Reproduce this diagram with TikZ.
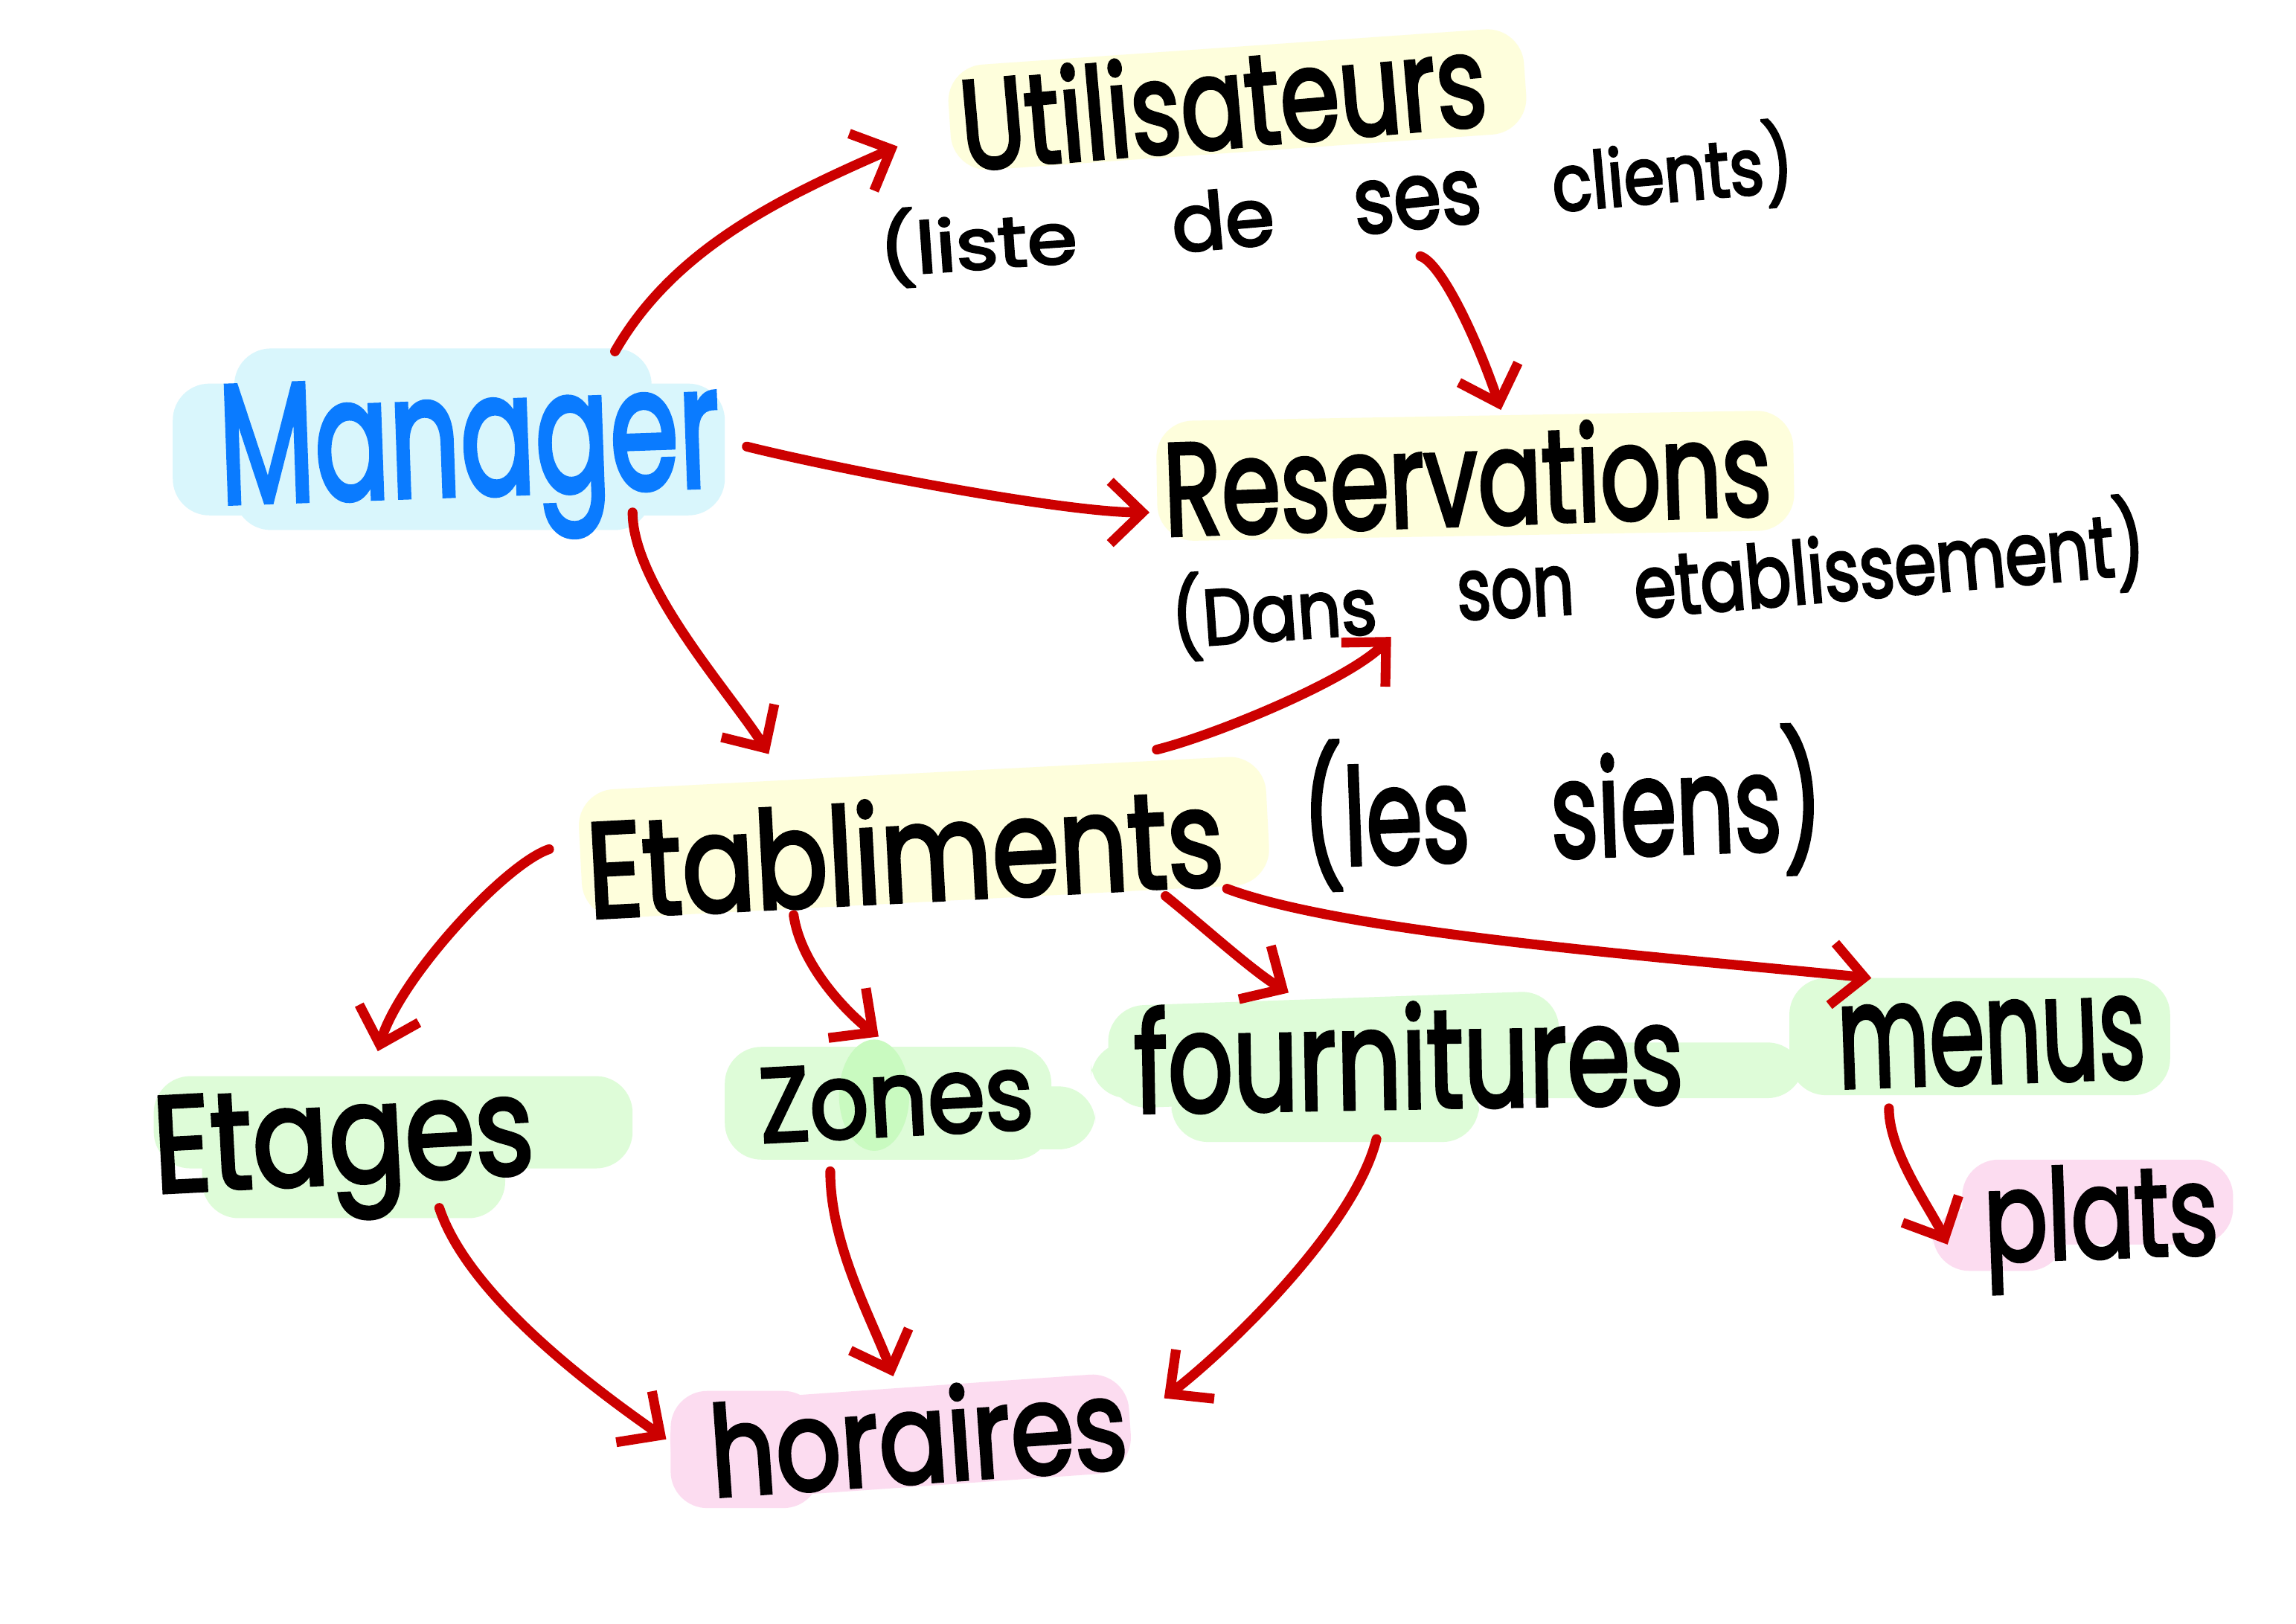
\documentclass[tikz,border=0pt]{standalone}
\usepackage{fontspec}
\setmainfont{Poppins}[FakeBold=3]
\usepackage{graphicx}
\usetikzlibrary{arrows.meta}

\definecolor{inkblue}{HTML}{0A7BFF}
\definecolor{inkred}{HTML}{CC0000}
\definecolor{hlblue}{HTML}{D9F6FC}
\definecolor{hlyellow}{HTML}{FEFEDC}
\definecolor{hlgreen}{HTML}{DEFCD8}
\definecolor{hlgreendark}{HTML}{C9FAC0}
\definecolor{hlpink}{HTML}{FCDCF0}

% #1 angle, #2 width (mm), #3 ascender height (mm), #4 text
\newcommand\handword[4]{\makebox[0pt]{\smash{\raisebox{-.5\height}{\rotatebox[origin=c]{#1}{\resizebox{#2mm}{#3mm}{#4}}}}}}

\tikzset{
  word/.style={inner sep=0pt, outer sep=0pt},
  link/.style={draw=inkred, line width=3.8pt, line cap=round, line join=round,
    -{Straight Barb[length=4.4mm,width=8.5mm,line width=3.8pt]}},
  marker/.style={rounded corners=5mm}
}

\begin{document}
\begin{tikzpicture}[x=0.2mm, y=-0.2mm]
\useasboundingbox (0,0) rectangle (1568,1109);
\fill[white] (0,0) rectangle (1568,1109);

% highlighter marks
\fill[hlblue, marker] (118,262) rectangle (495,352);
\fill[hlblue, marker] (160,238) rectangle (445,362);
\fill[hlyellow, marker, rotate around={4:(845,68)}] (648,32) rectangle (1042,104);
\fill[hlyellow, marker, rotate around={1:(1005,325)}] (790,284) rectangle (1225,366);
\fill[hlyellow, marker, rotate around={3:(630,572)}] (396,528) rectangle (866,616);
\fill[hlgreen, marker] (105,735) rectangle (432,798);
\fill[hlgreen, marker] (138,760) rectangle (345,832);
\fill[hlgreen, marker] (495,715) rectangle (718,792);
\fill[hlgreen, marker] (545,742) rectangle (748,785);
\fill[hlgreendark] (597,748) ellipse [x radius=24, y radius=38];
\fill[hlgreen, marker, rotate around={2:(910,715)}] (757,682) rectangle (1065,752);
\fill[hlgreen, marker] (745,712) rectangle (1232,750);
\fill[hlgreen, marker] (800,735) rectangle (1010,780);
\fill[hlgreen, marker] (1222,668) rectangle (1482,748);
\fill[hlpink, marker] (1340,792) rectangle (1525,850);
\fill[hlpink, marker] (1320,825) rectangle (1410,868);
\fill[hlpink, marker, rotate around={4:(615,982)}] (458,948) rectangle (772,1016);
\fill[hlpink, marker] (458,950) rectangle (560,1030);

% main words
\node[word] (mgr) at (321,295) {\handword{2}{68.4}{16}{\color{inkblue}Manager}};
\node[word] (usr) at (835,60) {\handword{5}{72}{13.2}{Utilisateurs}};
\node[word] (res) at (1002,321) {\handword{2}{83}{13.6}{Reservations}};
\node[word] (eta) at (618,575) {\handword{3}{87}{14}{Etabliments}};
\node[word] (etg) at (235,772) {\handword{3}{52}{13}{Etages}};
\node[word] (zon) at (612,748) {\handword{3}{37.4}{10}{Zones}};
\node[word] (fou) at (962,719) {\handword{1}{75}{14.4}{fournitures}};
\node[word] (men) at (1360,710) {\handword{2}{42}{11}{menus}};
\node[word] (pla) at (1435,826) {\handword{2}{32}{12.6}{plats}};
\node[word] (hor) at (627,975) {\handword{4}{57}{13}{horaires}};

% remarks, written word by word
\node[word] (lst1) at (668,159) {\handword{4}{27}{9}{(liste}};
\node[word] (lst2) at (835,148) {\handword{5}{14}{8}{de}};
\node[word] (lst3) at (968,136) {\handword{6}{17.4}{7}{ses}};
\node[word] (lst4) at (1142,109) {\handword{5}{33}{10}{clients)}};
\node[word] (dns1) at (870,410) {\handword{4}{28}{10}{(Dans}};
\node[word] (dns2) at (1035,404) {\handword{3}{16}{6.5}{son}};
\node[word] (dns3) at (1290,372) {\handword{5}{70}{11}{etablissement)}};
\node[word] (sie) at (1067,540) {\handword{2}{71}{17}{(les\hspace{0.9em}siens)}};

% connectors
\draw[link] ([shift={(99,-55)}]mgr.center) .. controls +(40,-70) and +(-80,35) .. ([shift={(-222,40)}]usr.center);
\draw[link] ([shift={(189,10)}]mgr.center) .. controls +(60,15) and +(-60,0) .. ([shift={(-217,29)}]res.center);
\draw[link] ([shift={(111,55)}]mgr.center) .. controls +(0,50) and +(-25,-40) .. ([shift={(-93,-60)}]eta.center);
\draw[link] ([shift={(2,39)}]lst3.center) .. controls +(15,5) and +(-15,-45) .. ([shift={(23,-41)}]res.center);
\draw[link] ([shift={(172,-63)}]eta.center) .. controls +(40,-10) and +(-30,30) .. ([shift={(80,25)}]dns1.center);
\draw[link] ([shift={(-243,5)}]eta.center) .. controls +(-30,10) and +(15,-50) .. ([shift={(23,-54)}]etg.center);
\draw[link] ([shift={(-76,50)}]eta.center) .. controls +(5,35) and +(-20,-15) .. ([shift={(-12,-40)}]zon.center);
\draw[link] ([shift={(178,37)}]eta.center) .. controls +(25,20) and +(-25,-15) .. ([shift={(-82,-41)}]fou.center);
\draw[link] ([shift={(220,32)}]eta.center) .. controls +(80,30) and +(-150,-15) .. ([shift={(-82,-42)}]men.center);
\draw[link] ([shift={(65,53)}]etg.center) .. controls +(20,60) and +(-50,-35) .. ([shift={(-172,8)}]hor.center);
\draw[link] ([shift={(-45,52)}]zon.center) .. controls +(0,50) and +(-15,-40) .. ([shift={(-17,-35)}]hor.center);
\draw[link] ([shift={(-22,59)}]fou.center) .. controls +(-15,60) and +(45,-35) .. ([shift={(168,-20)}]hor.center);
\draw[link] ([shift={(-70,47)}]men.center) .. controls +(0,30) and +(-12,-25) .. ([shift={(-105,24)}]pla.center);
\end{tikzpicture}
\end{document}
